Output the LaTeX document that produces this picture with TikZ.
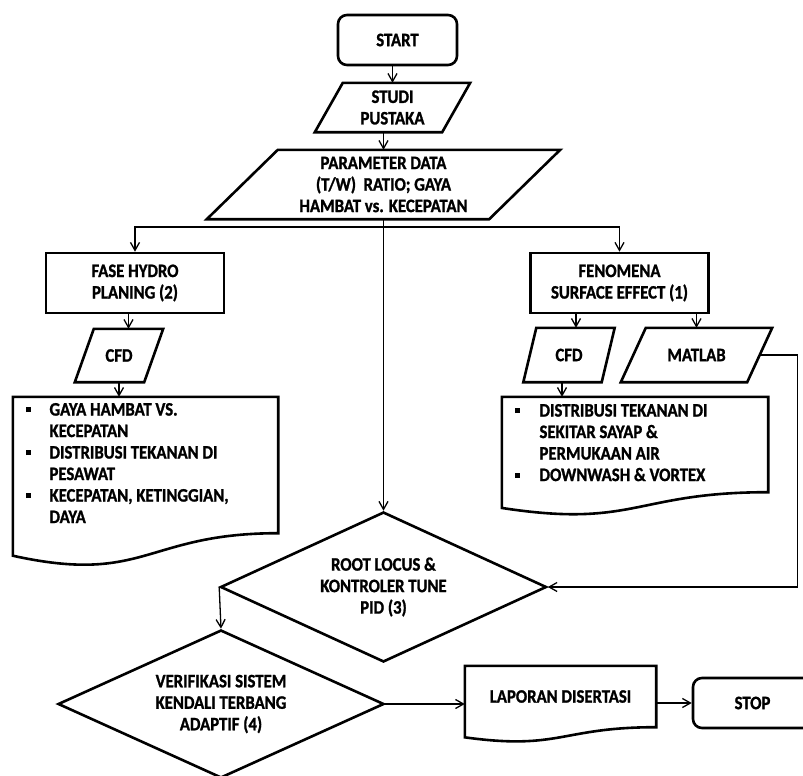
\documentclass[tikz,border=0pt]{standalone}
\usepackage{fontspec}
\setmainfont{Carlito}[FakeStretch=0.88,BoldFeatures={FakeBold=1.2}]
\usepackage{tikz}
\usetikzlibrary{shapes.geometric,arrows.meta,calc}
\newcommand{\kotak}{\raisebox{3.5pt}{\rule{5pt}{5pt}}}

\begin{document}
\begin{tikzpicture}[x=1pt,y=-1pt,
   font=\fontsize{19}{21.5}\selectfont\bfseries,
   garis/.style={line width=2.6pt},
   terminal/.style={garis,draw,rectangle,rounded corners=9pt,minimum width=119pt,minimum height=50pt},
   proses/.style={garis,draw,rectangle,minimum width=178pt,minimum height=60pt,align=center},
   masukan/.style={rectangle,inner sep=0pt,align=center},
   dokumen/.style={rectangle,inner xsep=12.5pt,inner ysep=0pt},
   keputusan/.style={garis,draw,diamond,aspect=2.2,inner sep=0pt,minimum width=326pt,minimum height=150pt,align=center},
   panah/.style={line width=1.3pt,-{Straight Barb[length=8pt,width=9pt]}}]
   \clip (0,0) rectangle (803,776);

   \node[terminal] (start) at (397.5,40) {START};
   \node[masukan,minimum width=127pt,minimum height=49pt] (studi) at (392.5,107.5) {STUDI\\PUSTAKA};
   \node[masukan,minimum width=282pt,minimum height=69pt] (param) at (383.5,184.5) {PARAMETER DATA\\(T/W)\ \ RATIO; GAYA\\HAMBAT vs. KECEPATAN};
   \coordinate (cabang) at (383.5,227);

   \node[proses] (fase) at (135,283) {FASE HYDRO\\PLANING (2)};
   \node[proses] (fenomena) at (619.5,283) {FENOMENA\\SURFACE EFFECT (1)};
   \node[masukan,minimum width=69pt,minimum height=53pt] (cfdA) at (119,355.5) {CFD};
   \node[masukan,minimum width=78pt,minimum height=54pt] (cfdB) at (569,355) {CFD};
   \node[masukan,minimum width=126pt,minimum height=54pt] (matlab) at (696.5,355) {MATLAB};

   \node[dokumen,minimum height=136pt] (hasilA) at (145.5,465) {\makebox[240pt][l]{\begin{tabular}{@{}p{24pt}@{}l@{}}
      \kotak & GAYA HAMBAT VS.\\
             & KECEPATAN\\
      \kotak & DISTRIBUSI TEKANAN DI\\
             & PESAWAT\\
      \kotak & KECEPATAN, KETINGGIAN,\\
             & DAYA
   \end{tabular}}};
   \node[dokumen,minimum height=95pt] (hasilB) at (635,444.5) {\makebox[241pt][l]{\begin{tabular}{@{}p{25pt}@{}l@{}}
      \kotak & DISTRIBUSI TEKANAN DI\\
             & SEKITAR SAYAP \&\\
             & PERMUKAAN AIR\\
      \kotak & DOWNWASH \& VORTEX
   \end{tabular}}};

   \node[keputusan] (root) at (383.5,587) {ROOT LOCUS \&\\KONTROLER TUNE\\PID (3)};
   \node[keputusan,minimum height=148pt] (verif) at (221,704) {VERIFIKASI SISTEM\\KENDALI TERBANG\\ADAPTIF (4)};
   \node[dokumen,minimum width=191pt,minimum height=61pt] (laporan) at (560.5,696.5) {LAPORAN DISERTASI};
   \node[terminal] (stop) at (752.5,703) {STOP};

   \foreach \n/\o in {studi/28,param/71,cfdA/19,cfdB/13,matlab/25}
      \draw[garis] ([xshift=\o/2]\n.north west) -- ([xshift=\o/2]\n.north east) -- ([xshift=-\o/2]\n.south east)
         -- ([xshift=-\o/2]\n.south west) -- cycle;
   \foreach \n in {hasilA,hasilB,laporan}
      \draw[garis] (\n.south east) -- (\n.north east) -- (\n.north west) -- ($(\n.south west)!-0.165!(\n.north west)$)
         .. controls ($(\n.south)!-0.38!(\n.north)$) and (\n.south) .. (\n.south east) -- cycle;

   \foreach \a/\b in {studi.north |- start.south/studi.north, param.north |- studi.south/param.north,
      param.south/root.north, cfdA.south/cfdA.south |- hasilA.north, matlab.north |- fenomena.south/matlab.north,
      root.west/verif.north, verif.east/verif.east -| laporan.west, laporan.east |- stop.west/stop.west}
      \draw[panah] (\a) -- (\b);
   \draw[panah] ([xshift=9.5pt]cfdA.north |- fase.south) -- ([xshift=9.5pt]cfdA.north);
   \draw[panah] ([xshift=7pt]cfdB.north |- fenomena.south) -- ([xshift=7pt]cfdB.north);
   \draw[panah] ([xshift=-7pt]cfdB.south) -- ([xshift=-7pt]cfdB.south |- hasilB.north);
   \draw[panah] (cabang) -| (fase.north);
   \draw[panah] (cabang) -| (fenomena.north);
   \draw[panah] (matlab.east) -- ++(38,0) |- (root.east);
\end{tikzpicture}
\end{document}
